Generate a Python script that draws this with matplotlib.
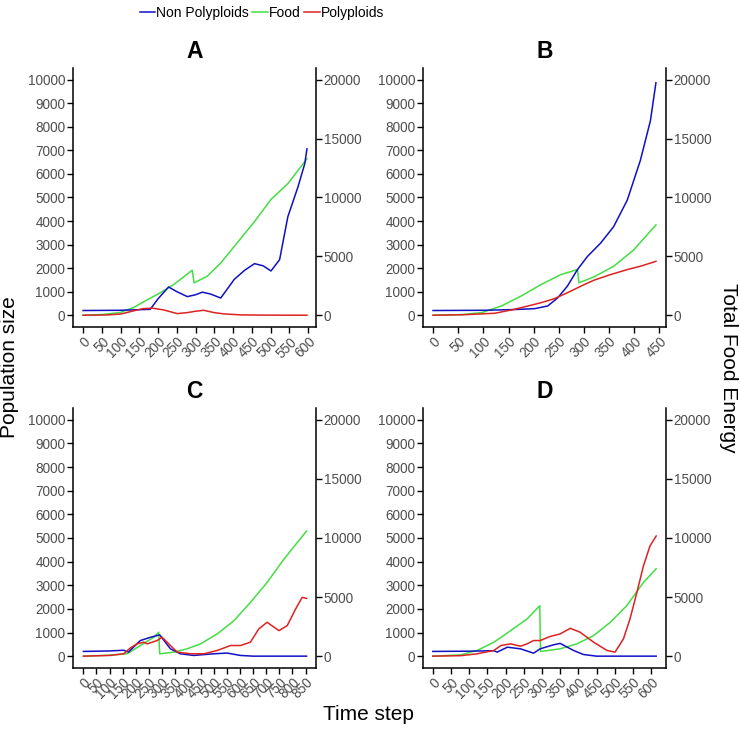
import matplotlib
matplotlib.use("Agg")
import matplotlib.pyplot as plt
import numpy as np

plt.rcParams['font.family'] = ['Liberation Sans', 'DejaVu Sans']

BLUE = "#1010C4"
GREEN = "#44DD44"
RED = "#DD2222"

# ---------------- Panel A ----------------
a_non_t = [0, 100, 179, 200, 228, 250, 278, 300, 318, 340, 367, 403, 430, 457, 480, 501, 524, 546, 573, 591, 597]
a_non_v = [200, 210, 250, 700, 1200, 1000, 790, 870, 980, 900, 730, 1520, 1900, 2190, 2100, 1880, 2360, 4185, 5450, 6430, 7065]
a_food_t = [0, 50, 98, 134, 170, 206, 242, 291, 296, 331, 367, 403, 457, 501, 546, 597]
a_food_v = [0, 60, 224, 646, 1292, 1910, 2612, 3820, 2752, 3314, 4438, 5842, 7950, 9832, 11180, 13286]
a_pol_t = [0, 60, 100, 134, 160, 185, 215, 251, 278, 300, 322, 349, 376, 420, 480, 597]
a_pol_v = [0, 10, 50, 183, 280, 300, 225, 70, 112, 170, 210, 112, 56, 15, 5, 0]

# ---------------- Panel B ----------------
b_non_t = [0, 100, 160, 202, 228, 248, 267, 287, 307, 333, 359, 386, 412, 432, 443]
b_non_v = [200, 210, 240, 280, 393, 744, 1236, 1938, 2500, 3062, 3764, 4888, 6573, 8258, 9874]
b_food_t = [0, 58, 97, 136, 175, 215, 254, 287, 290, 320, 359, 399, 443]
b_food_v = [0, 60, 224, 786, 1630, 2612, 3454, 3876, 2752, 3258, 4158, 5562, 7668]
b_pol_t = [0, 60, 123, 156, 189, 215, 241, 267, 294, 320, 353, 386, 412, 443]
b_pol_v = [0, 20, 84, 225, 393, 534, 702, 955, 1236, 1489, 1727, 1938, 2079, 2289]

# ---------------- Panel C ----------------
c_non_t = [0, 100, 154, 172, 218, 257, 292, 333, 371, 422, 499, 550, 601, 650, 854]
c_non_v = [200, 220, 250, 170, 660, 800, 900, 310, 100, 30, 100, 130, 30, 0, 0]
c_food_t = [0, 100, 167, 218, 269, 288, 292, 346, 397, 448, 512, 576, 639, 703, 767, 854]
c_food_v = [0, 80, 200, 900, 1600, 2022, 200, 340, 620, 1040, 1880, 3000, 4550, 6236, 8202, 10590]
c_pol_t = [0, 100, 154, 180, 205, 231, 244, 282, 301, 333, 359, 410, 461, 512, 563, 601, 639, 671, 703, 748, 780, 812, 837, 854]
c_pol_v = [0, 30, 100, 350, 520, 590, 520, 660, 800, 450, 170, 100, 100, 240, 450, 450, 590, 1151, 1433, 1080, 1292, 1994, 2486, 2444]

# ---------------- Panel D ----------------
d_non_t = [0, 100, 168, 177, 205, 241, 277, 295, 332, 350, 387, 414, 450, 614]
d_non_v = [200, 210, 230, 170, 380, 310, 126, 310, 480, 540, 240, 70, 0, 0]
d_food_t = [0, 77, 122, 168, 214, 259, 294, 296, 350, 396, 442, 488, 533, 579, 614]
d_food_v = [0, 112, 480, 1180, 2162, 3146, 4270, 394, 620, 1040, 1740, 2866, 4270, 6236, 7400]
d_pol_t = [0, 77, 122, 168, 187, 214, 241, 259, 277, 295, 322, 350, 378, 405, 442, 479, 501, 524, 542, 561, 579, 597, 614]
d_pol_v = [0, 20, 100, 240, 450, 520, 420, 520, 660, 660, 830, 940, 1180, 1011, 590, 240, 170, 730, 1573, 2697, 3820, 4663, 5084]

x_ticks_a = list(range(0, 601, 50))
x_ticks_b = list(range(0, 451, 50))
x_ticks_c = list(range(0, 851, 50))
x_ticks_d = list(range(0, 601, 50))
pop_ticks = list(range(0, 10001, 1000))
food_ticks = list(range(0, 20001, 5000))

panels = [
    ("A", [0.0986, 0.5551, 0.3284, 0.3524], (-27, 621), x_ticks_a,
     (a_non_t, a_non_v), (a_food_t, a_food_v), (a_pol_t, a_pol_v)),
    ("B", [0.5716, 0.5551, 0.3284, 0.3524], (-20, 463), x_ticks_b,
     (b_non_t, b_non_v), (b_food_t, b_food_v), (b_pol_t, b_pol_v)),
    ("C", [0.0986, 0.0912, 0.3284, 0.3537], (-40, 890), x_ticks_c,
     (c_non_t, c_non_v), (c_food_t, c_food_v), (c_pol_t, c_pol_v)),
    ("D", [0.5716, 0.0912, 0.3284, 0.3537], (-27, 641), x_ticks_d,
     (d_non_t, d_non_v), (d_food_t, d_food_v), (d_pol_t, d_pol_v)),
]

fig = plt.figure(figsize=(7.4, 7.35), dpi=100)
tick_color = "#4D4D4D"
lw = 1.1
handles = None
for label, pos, xlim, xt, non, food, pol in panels:
    ax = fig.add_axes(pos)
    ax2 = ax.twinx()
    ax.set_zorder(ax2.get_zorder() + 1)
    ax.patch.set_visible(False)
    h2, = ax2.plot(food[0], food[1], color=GREEN, lw=lw, label="Food")
    h1, = ax.plot(non[0], non[1], color=BLUE, lw=lw, label="Non Polyploids")
    h3, = ax.plot(pol[0], pol[1], color=RED, lw=lw, label="Polyploids")
    handles = [h1, h2, h3]
    ax.set_xlim(*xlim)
    ax.set_ylim(-500, 10500)
    ax2.set_ylim(-1000, 21000)
    ax.set_yticks(pop_ticks)
    ax2.set_yticks(food_ticks)
    ax.set_xticks(xt)
    ax.set_xticklabels([str(v) for v in xt], rotation=45, ha='right', va='top',
                       rotation_mode='anchor')
    for a in (ax, ax2):
        a.spines['top'].set_visible(False)
        for s in a.spines.values():
            s.set_linewidth(1.1)
            s.set_color('black')
        a.tick_params(axis='both', direction='out', length=4, width=1.0,
                      colors='black', labelcolor=tick_color, labelsize=9.75, pad=1.5)
    ax.spines['right'].set_visible(False)
    ax2.spines['left'].set_visible(False)
    ax2.spines['bottom'].set_visible(False)
    ax.set_title(label, fontsize=16.5, fontweight='bold', pad=7)

fig.legend(handles=handles, labels=["Non Polyploids", "Food", "Polyploids"],
           loc='upper center', bbox_to_anchor=(262 / 740, 1.009), ncol=3, frameon=False,
           fontsize=10, handlelength=1.1, handletextpad=0.1, columnspacing=0.25)

fig.text(0.013, 0.5, "Population size", rotation=90, ha='center', va='center', fontsize=15)
fig.text(0.985, 0.5, "Total Food Energy", rotation=270, ha='center', va='center', fontsize=15)
fig.text(368 / 740, 1 - 715 / 735, "Time step", ha='center', va='center', fontsize=15)

fig.savefig("out.png", dpi=100)
